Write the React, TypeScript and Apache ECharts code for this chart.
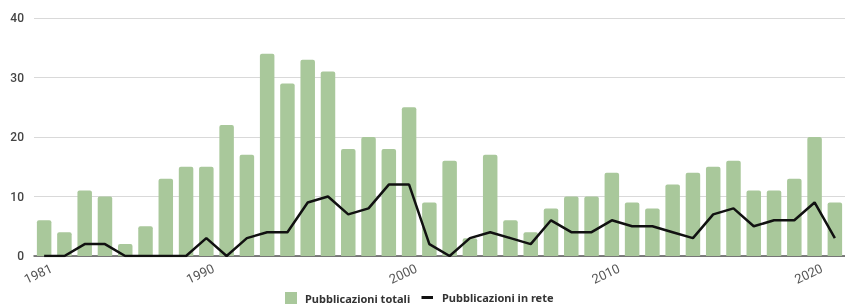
import React, { useEffect, useRef } from "react";
import * as echarts from "echarts";

const years = [
  "1981", "1983", "1984", "1985", "1986", "1987", "1988", "1989", "1990",
  "1991", "1992", "1993", "1994", "1995", "1996", "1997", "1998", "1999", "2000",
  "2001", "2002", "2003", "2004", "2005", "2006", "2007", "2008", "2009", "2010",
  "2011", "2012", "2013", "2014", "2015", "2016", "2017", "2018", "2019", "2020",
  "2021",
];
const totali = [
  6, 4, 11, 10, 2, 5, 13, 15, 15,
  22, 17, 34, 29, 33, 31, 18, 20, 18, 25,
  9, 16, 3, 17, 6, 4, 8, 10, 10, 14,
  9, 8, 12, 14, 15, 16, 11, 11, 13, 20,
  9,
];
const inRete = [
  0, 0, 2, 2, 0, 0, 0, 0, 3,
  0, 3, 4, 4, 9, 10, 7, 8, 12, 12,
  2, 0, 3, 4, 3, 2, 6, 4, 4, 6,
  5, 5, 4, 3, 7, 8, 5, 6, 6, 9,
  3,
];
const shownLabels = ["1981", "1990", "2000", "2010", "2020"];
const yTicks = { min: 0, max: 40, interval: 10 };

export default function App() {
  const ref = useRef<HTMLDivElement>(null);
  useEffect(() => {
    if (!ref.current) return;
    const chart = echarts.init(ref.current, null, { renderer: "svg" });
    const legendText = {
      fontFamily: "Noto Sans",
      fontWeight: "bold" as const,
      fontSize: 11,
      color: "#333",
    };
    chart.setOption({
      animation: false,
      grid: { left: 34, width: 814, top: 18, height: 238 },
      xAxis: {
        type: "category",
        data: years,
        axisTick: { show: false },
        axisLine: { lineStyle: { color: "#555", width: 1.5 } },
        axisLabel: {
          interval: (_i: number, v: string) => shownLabels.includes(v),
          rotate: 25,
          fontSize: 13,
          fontFamily: "Roboto",
          color: "#555",
          margin: 15,
          padding: [0, -8, 0, 0],
        },
      },
      yAxis: {
        type: "value",
        min: yTicks.min,
        max: yTicks.max,
        interval: yTicks.interval,
        axisLine: { show: false },
        axisTick: { show: false },
        splitLine: { lineStyle: { color: "#d9d9d9", width: 1 } },
        axisLabel: {
          fontSize: 12,
          fontFamily: "Roboto",
          fontWeight: 500,
          color: "#444",
          margin: 10,
        },
      },
      legend: [
        {
          data: ["Pubblicazioni totali"],
          left: 285,
          top: 292,
          padding: 0,
          icon: "rect",
          itemWidth: 12,
          itemHeight: 12,
          textStyle: { ...legendText, padding: [0, 0, 0, 3] },
        },
        {
          data: ["Pubblicazioni in rete"],
          left: 421.5,
          top: 292,
          padding: 0,
          icon: "rect",
          itemWidth: 11.5,
          itemHeight: 3,
          textStyle: { ...legendText, padding: [0, 0, 0, 4] },
        },
      ],
      series: [
        {
          name: "Pubblicazioni totali",
          type: "bar",
          data: totali,
          barWidth: 14.5,
          itemStyle: { color: "#a9c89b", borderRadius: [2, 2, 0, 0] },
        },
        {
          name: "Pubblicazioni in rete",
          type: "line",
          data: inRete,
          symbol: "none",
          lineStyle: { color: "#111", width: 2.5 },
          itemStyle: { color: "#111" },
        },
      ],
    });
    return () => chart.dispose();
  }, []);
  return (
    <div
      ref={ref}
      style={{ position: "fixed", left: 0, top: 0, width: 845, height: 305 }}
    />
  );
}
